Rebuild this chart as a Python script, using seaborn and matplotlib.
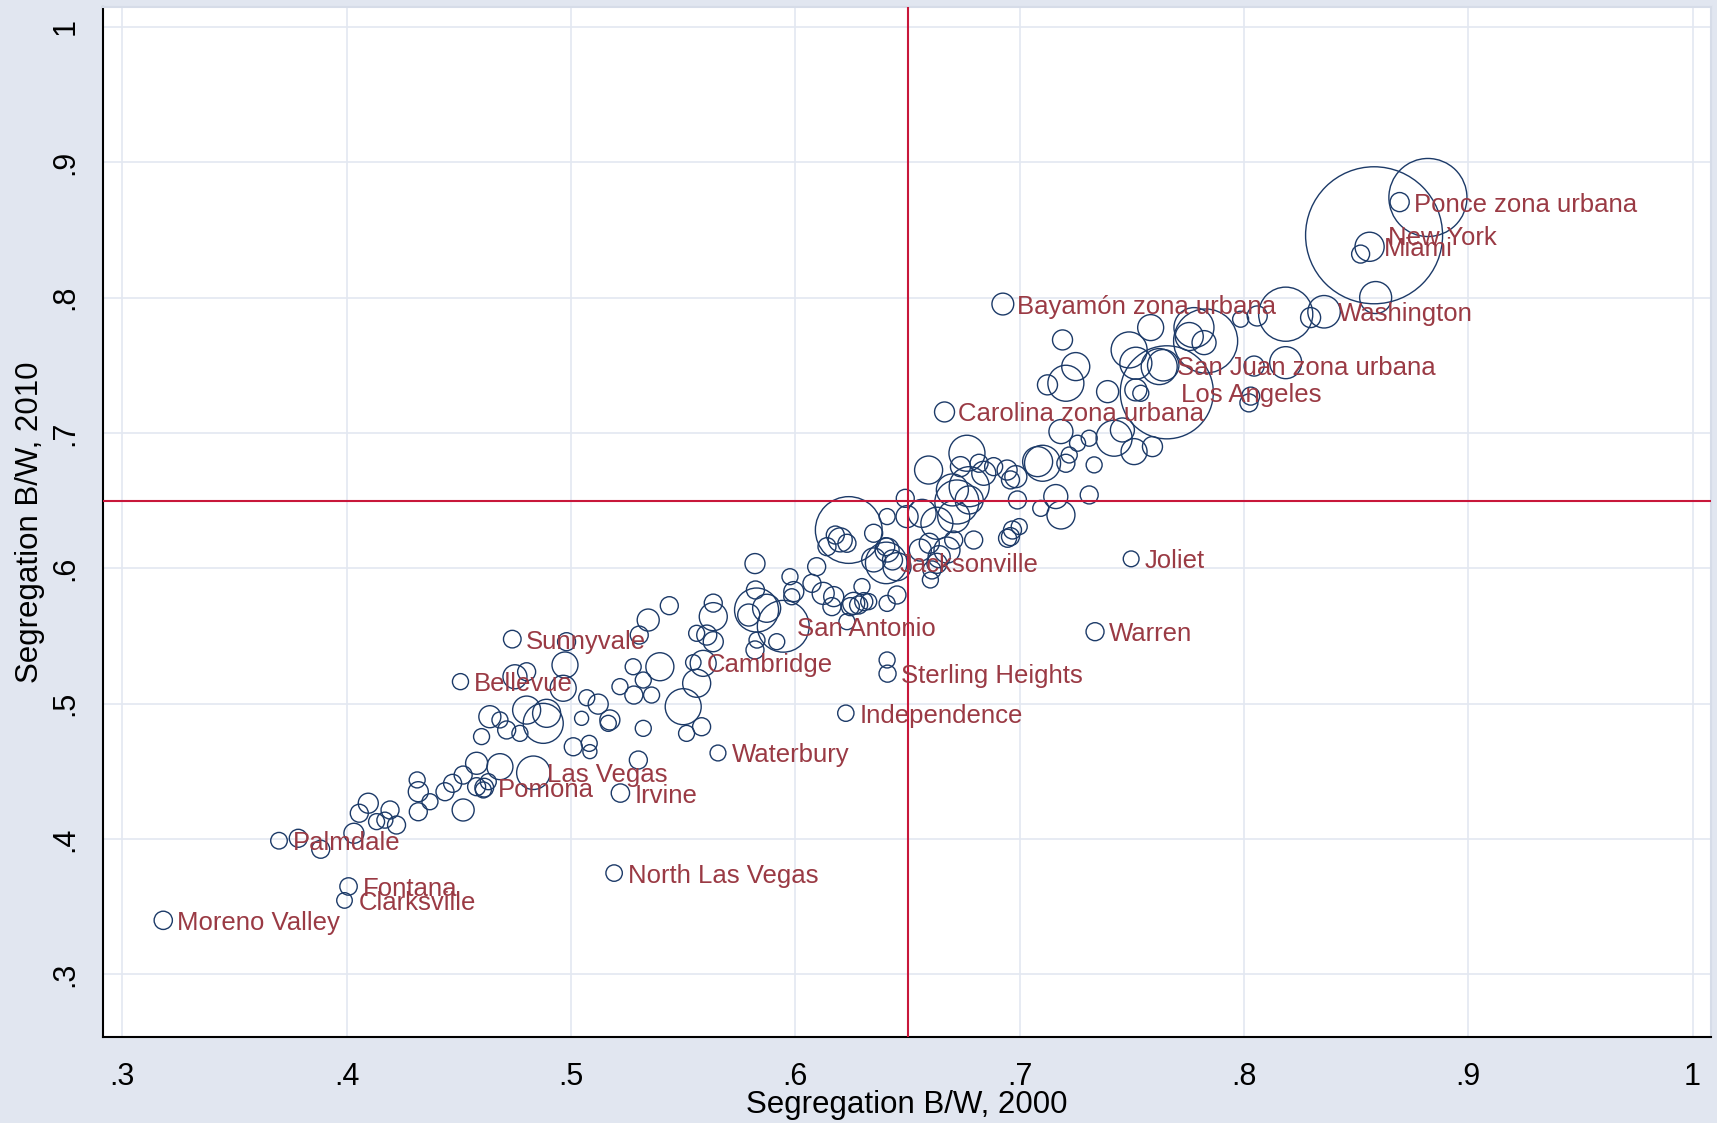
import numpy as np
import pandas as pd
import matplotlib
matplotlib.use("Agg")
import matplotlib.pyplot as plt
import seaborn as sns

# Black/white dissimilarity index of each city in 2000 and 2010,
# circles weighted by city population (thousands).

# Cities carrying a name label
named_city = [
    "Ponce zona urbana", "New York", "Miami", "Bayamón zona urbana", "Washington",
    "San Juan zona urbana", "Los Angeles", "Carolina zona urbana", "Jacksonville",
    "Joliet", "San Antonio", "Sunnyvale", "Warren", "Cambridge", "Sterling Heights",
    "Bellevue", "Independence", "Waterbury", "Las Vegas", "Pomona", "Irvine",
    "Palmdale", "North Las Vegas", "Fontana", "Clarksville", "Moreno Valley",
]
named_seg2000 = [
    .8694, .8580, .8560, .6925, .8357, .7640, .7656, .6665, .6405, .7497,
    .5946, .4738, .7336, .5545, .6411, .4507, .6225, .5655, .4832, .4613,
    .5220, .3698, .5192, .4008, .3990, .3182,
]
named_seg2010 = [
    .8705, .8460, .8375, .7952, .7895, .7500, .7300, .7155, .6040, .6070,
    .5572, .5477, .5532, .5305, .5222, .5163, .4930, .4636, .4490, .4380,
    .4340, .3988, .3749, .3650, .3547, .3400,
]
named_pop = [
    156, 8008, 362, 203, 450, 421, 3695, 170, 736, 106,
    1145, 132, 138, 101, 124, 110, 113, 107, 478, 149,
    143, 117, 115, 129, 103, 142,
]

# All remaining cities
other_seg2000 = [
    .3784, .3884, .4032, .4096, .4056, .4133, .4193, .4222, .4170, .4314,
    .4319, .4319, .4371, .4438, .4472, .4519, .4519, .4579, .4579, .4631,
    .4683, .4601, .4609,
    .4980, .4973, .4965, .4750, .4802, .4638, .4683, .4713, .4802, .4876,
    .4891, .4772, .5070, .5121, .5047, .5173, .5166, .5010, .5081, .5084,
    .5218, .5277, .5280, .5322, .5359, .5322, .5396, .5438, .5344, .5304,
    .5500, .5515, .5582, .5560, .5589, .5634, .5560, .5605, .5634, .5634,
    .5820, .5827, .5872, .5820, .5917, .5976, .5984, .6095, .6124, .5300,
    .5822, .5792, .5829, .5993, .6074, .6171, .6163, .6245, .6260, .6282,
    .6297, .6305, .6327, .6409, .6453, .6230, .6409, .6238, .6200, .6178,
    .6230, .6141, .6409, .6349, .6409, .6349, .6453, .6490, .6498, .6565,
    .6594, .6631, .6706, .6720, .6765, .6736, .6840, .6884, .6944, .6959,
    .6959, .6795, .6602, .6609, .6631, .6557, .6676, .6706,
    .6819, .6983, .7102, .7080, .7206, .7221, .7258, .7310, .7184, .7332,
    .7310, .7161, .7184, .7094, .6990, .6775, .6700, .6775, .6968, .6946,
    .6998, .6597, .6641, .6433, .6403, .7191, .7250, .7206, .7124, .7392,
    .7488, .7518, .7540, .7518, .7458, .7592, .7510, .7421, .7622, .7756,
    .8520, .8587, .8186, .8297, .8059, .7985, .7829, .7777, .7822, .7584,
    .8186, .8045, .8022, .8030, .8820,
]
other_seg2010 = [
    .4006, .3925, .4043, .4265, .4191, .4129, .4215, .4104, .4140, .4437,
    .4350, .4202, .4276, .4350, .4412, .4215, .4473, .4560, .4387, .4424,
    .4535, .4757, .4363,
    .5458, .5286, .5114, .5199, .5236, .4904, .4880, .4806, .4953, .4855,
    .4929, .4781, .5044, .4997, .4892, .4880, .4855, .4682, .4707, .4646,
    .5126, .5273, .5064, .5175, .5064, .4818, .5273, .5724, .5618, .5507,
    .4978, .4781, .4830, .5151, .5298, .5643, .5520, .5507, .5743, .5458,
    .6035, .5692, .5705, .5397, .5458, .5938, .5790, .6012, .5815, .4584,
    .5840, .5655, .5470, .5828, .5889, .5791, .5717, .5717, .5741, .5729,
    .5865, .5754, .5754, .5741, .5803, .5606, .5323, .6283, .6210, .6246,
    .6185, .6160, .6382, .6259, .6135, .6062, .6012, .6517, .6382, .6406,
    .6726, .6333, .6382, .6490, .6850, .6751, .6702, .6751, .6726, .6653,
    .6234, .6209, .5914, .5988, .6037, .6135, .6135, .6209,
    .6776, .6677, .6776, .6788, .6776, .6837, .6924, .6961, .7010, .6764,
    .6542, .6530, .6394, .6443, .6505, .6603, .6579, .6505, .6283, .6222,
    .6308, .6185, .6086, .6062, .6160, .7687, .7490, .7367, .7355, .7305,
    .7613, .7515, .7293, .7318, .7022, .6899, .6862, .6961, .7490, .7712,
    .8321, .8000, .7877, .7852, .7864, .7840, .7679, .7778, .7667, .7778,
    .7519, .7494, .7222, .7272, .8739,
]
other_pop = [
    138, 138, 171, 171, 138, 109, 138, 138, 109, 109,
    171, 138, 109, 138, 138, 207, 138, 207, 138, 109,
    288, 109, 109,
    138, 288, 288, 246, 138, 207, 109, 138, 335, 683,
    335, 109, 109, 171, 84, 171, 109, 138, 109, 84,
    109, 109, 138, 109, 109, 109, 335, 138, 207, 138,
    553, 109, 138, 335, 288, 335, 109, 171, 138, 171,
    171, 826, 335, 138, 109, 109, 109, 138, 207, 138,
    138, 207, 109, 171, 138, 171, 138, 138, 207, 138,
    109, 138, 109, 109, 138, 109, 109, 1900, 246, 138,
    138, 138, 109, 138, 246, 246, 335, 138, 207, 335,
    335, 437, 437, 826, 553, 171, 246, 138, 171, 138,
    138, 138, 109, 138, 171, 207, 288, 138,
    138, 207, 553, 384, 138, 109, 109, 109, 246, 109,
    138, 246, 335, 109, 138, 683, 437, 335, 138, 138,
    109, 171, 207, 171, 138, 171, 335, 553, 171, 207,
    553, 437, 109, 207, 246, 171, 288, 553, 553, 335,
    138, 437, 1250, 171, 171, 109, 1750, 683, 246, 288,
    437, 171, 138, 138, 2600,
]

axis_ticks = [.3, .4, .5, .6, .7, .8, .9, 1.0]
axis_tick_labels = [".3", ".4", ".5", ".6", ".7", ".8", ".9", "1"]
reference_level = 0.65

BG = "#E1E6F0"
GRID = "#E3E8F1"
NAVY = "#1C3A68"
MAROON = "#9A3A44"
RED = "#C8173A"

df = pd.concat([
    pd.DataFrame({"city": "", "seg2000": other_seg2000,
                  "seg2010": other_seg2010, "pop": other_pop}),
    pd.DataFrame({"city": named_city, "seg2000": named_seg2000,
                  "seg2010": named_seg2010, "pop": named_pop}),
], ignore_index=True)

sns.set_theme(style="white")
plt.rcParams["font.family"] = ["Liberation Sans", "DejaVu Sans"]

fig = plt.figure(figsize=(17.17, 11.23), dpi=100, facecolor=BG)
ax = fig.add_axes([0.05981, 0.07631, 0.93669, 0.91745])
ax.set_facecolor("white")

pop_max = max(named_pop)
sns.scatterplot(
    data=df, x="seg2000", y="seg2010", size="pop",
    sizes=(0, 1.215 * pop_max), size_norm=(0, pop_max),
    legend=False, facecolors="none", edgecolor=NAVY, linewidth=1.0,
    ax=ax, zorder=3,
)

ax.axvline(reference_level, color=RED, lw=1.5, zorder=4)
ax.axhline(reference_level, color=RED, lw=1.5, zorder=4)

for name, xv, yv in zip(named_city, named_seg2000, named_seg2010):
    ax.annotate(name, (xv, yv), xytext=(10, 0), textcoords="offset points",
                color=MAROON, fontsize=18.5, ha="left", va="center_baseline",
                zorder=5)

ax.set_xlim(0.2912, 1.0082)
ax.set_ylim(0.2536, 1.0146)
ax.set_xticks(axis_ticks, labels=axis_tick_labels)
ax.set_yticks(axis_ticks, labels=axis_tick_labels)
ax.grid(True, color=GRID, lw=1.2)
ax.set_axisbelow(True)

ax.tick_params(axis="both", direction="out", length=8, width=1.5,
               color="black", labelsize=22, labelcolor="black")
ax.tick_params(axis="x", pad=9.5)
ax.tick_params(axis="y", pad=8.2, labelrotation=90)
for lab in ax.get_yticklabels():
    lab.set_va("center")

for side in ("left", "bottom"):
    ax.spines[side].set_color("black")
    ax.spines[side].set_linewidth(1.5)
for side in ("top", "right"):
    ax.spines[side].set_color("#D6DCE8")
    ax.spines[side].set_linewidth(1.5)

ax.set_xlabel("Segregation B/W, 2000", fontsize=22.5, color="black")
ax.xaxis.set_label_coords(0.5, -0.0657)
ax.xaxis.label.set_va("center")
ax.set_ylabel("Segregation B/W, 2010", fontsize=22.5, color="black")
ax.yaxis.set_label_coords(-0.045, 0.5)
ax.yaxis.label.set_va("center")
ax.yaxis.label.set_ha("center")

fig.savefig("out.png", dpi=100, facecolor=fig.get_facecolor())
